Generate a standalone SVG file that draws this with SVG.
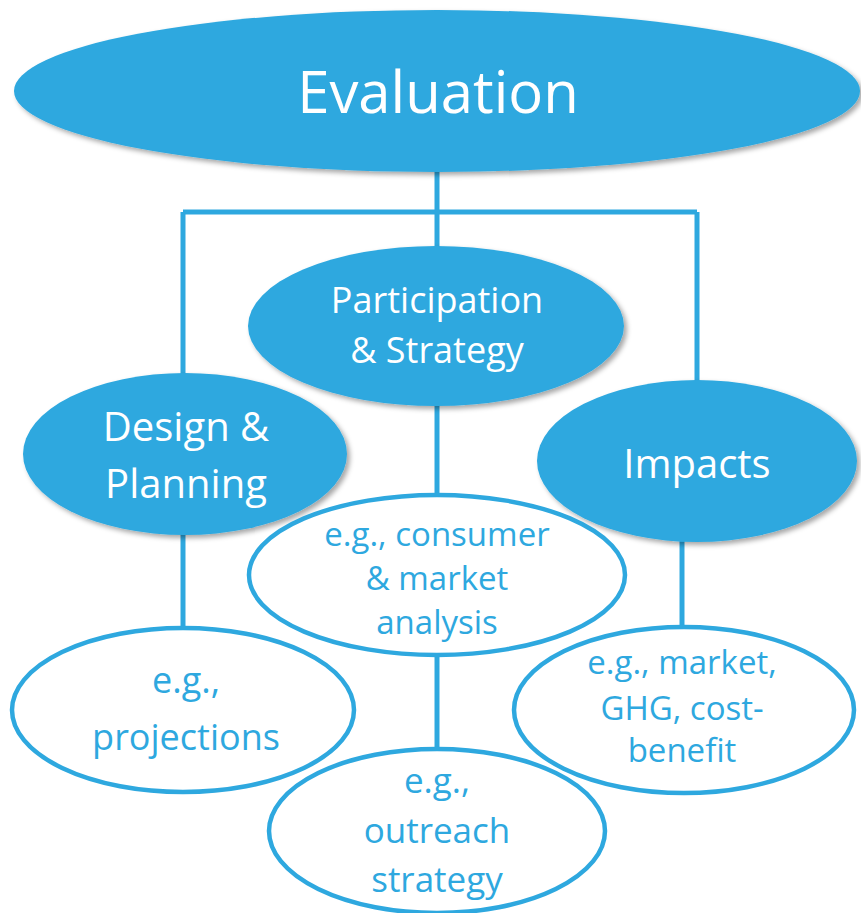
<svg xmlns="http://www.w3.org/2000/svg" width="861" height="913" viewBox="0 0 861 913">
  <defs>
    <filter id="shadow" x="-10%" y="-10%" width="125%" height="130%">
      <feDropShadow dx="3" dy="3" stdDeviation="2.5" flood-color="#000" flood-opacity="0.35"/>
    </filter>
    <style>
      .solid { fill: #2ea8df; filter: url(#shadow); }
      .outline { fill: #fff; stroke: #2ea8df; stroke-width: 4.5; }
      .link { fill: none; stroke: #2ea8df; stroke-width: 5; }
      .lbl { font-family: "Open Sans", "Liberation Sans", sans-serif; text-anchor: middle; }
      .light { fill: #fff; }
      .blue { fill: #2ea8df; }
    </style>
  </defs>
  <rect width="861" height="913" fill="#fff"/>

  <!-- connectors -->
  <g id="connectors">
    <path class="link" d="M437 170 V212 M183 212 H697 M183 212 V375 M697 212 V382 M437 212 V248"/>
    <path class="link" d="M437 404 V496"/>
    <path class="link" d="M183 533 V629"/>
    <path class="link" d="M682 541 V629"/>
    <path class="link" d="M437 654 V750"/>
  </g>

  <g id="evaluation">
    <ellipse class="solid" cx="437" cy="91" rx="423" ry="81"/>
    <text class="lbl light" x="438" y="113" font-size="58">Evaluation</text>
  </g>

  <g id="participation">
    <ellipse class="solid" cx="436" cy="326" rx="188" ry="80"/>
    <text class="lbl light" x="437" y="313" font-size="36">Participation</text>
    <text class="lbl light" x="437" y="363" font-size="36">&amp; Strategy</text>
  </g>

  <g id="design">
    <ellipse class="solid" cx="185" cy="454" rx="162" ry="81"/>
    <text class="lbl light" x="186" y="441" font-size="40">Design &amp;</text>
    <text class="lbl light" x="186" y="498" font-size="40">Planning</text>
  </g>

  <g id="impacts">
    <ellipse class="solid" cx="697" cy="461" rx="160" ry="81"/>
    <text class="lbl light" x="697" y="478" font-size="40">Impacts</text>
  </g>

  <g id="consumer">
    <ellipse class="outline" cx="437" cy="575" rx="188" ry="80"/>
    <text class="lbl blue" x="437" y="546" font-size="33">e.g., consumer</text>
    <text class="lbl blue" x="437" y="590" font-size="33">&amp; market</text>
    <text class="lbl blue" x="437" y="634" font-size="33">analysis</text>
  </g>

  <g id="projections">
    <ellipse class="outline" cx="183" cy="710" rx="171" ry="82"/>
    <text class="lbl blue" x="186" y="693" font-size="36">e.g.,</text>
    <text class="lbl blue" x="186" y="750" font-size="36">projections</text>
  </g>

  <g id="outreach">
    <ellipse class="outline" cx="437" cy="831" rx="168" ry="82"/>
    <text class="lbl blue" x="437" y="793" font-size="35">e.g.,</text>
    <text class="lbl blue" x="437" y="843" font-size="35">outreach</text>
    <text class="lbl blue" x="437" y="892" font-size="35">strategy</text>
  </g>

  <g id="market">
    <ellipse class="outline" cx="684" cy="710" rx="170" ry="83"/>
    <text class="lbl blue" x="682" y="674" font-size="33">e.g., market,</text>
    <text class="lbl blue" x="682" y="720" font-size="33">GHG, cost-</text>
    <text class="lbl blue" x="682" y="762" font-size="33">benefit</text>
  </g>
</svg>
